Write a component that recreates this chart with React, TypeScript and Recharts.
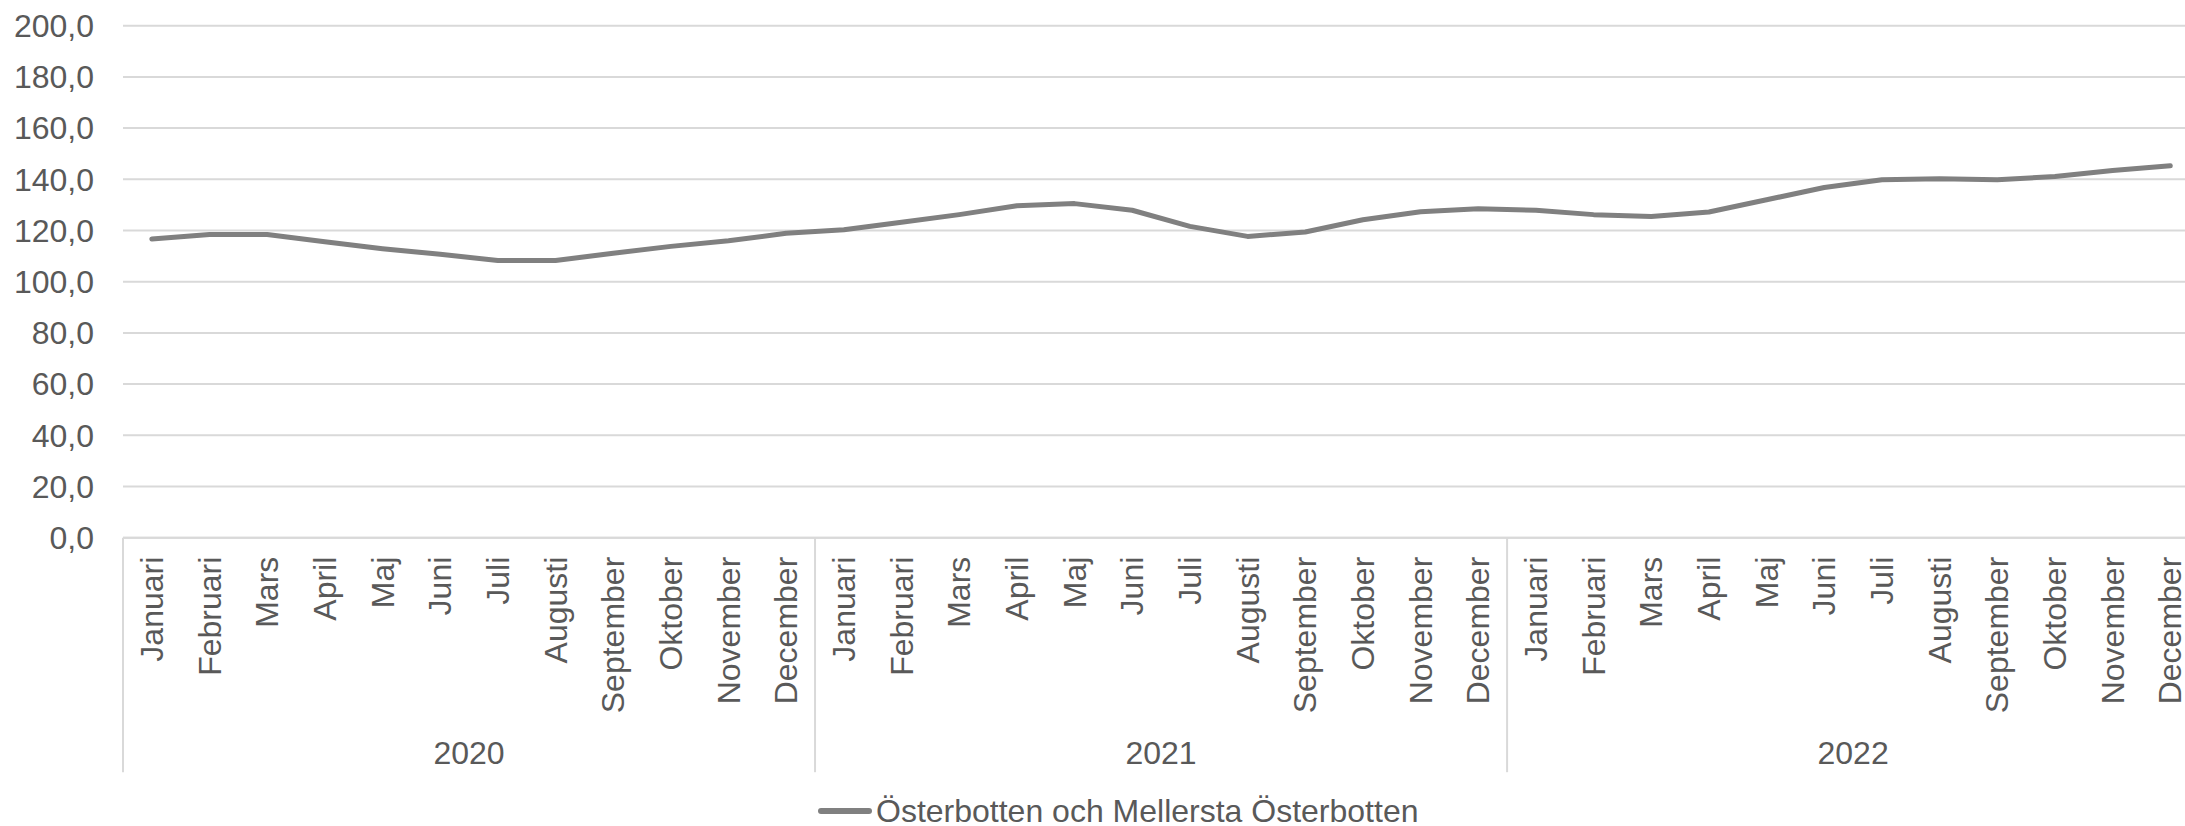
import React from 'react';
import { LineChart, Line, XAxis, YAxis, CartesianGrid, Legend } from 'recharts';

const months = ['Januari', 'Februari', 'Mars', 'April', 'Maj', 'Juni', 'Juli', 'Augusti', 'September', 'Oktober', 'November', 'December'];
const years = ['2020', '2021', '2022'];
const values2020 = [116.7, 118.4, 118.4, 115.6, 112.9, 110.7, 108.3, 108.3, 111.1, 113.8, 116.0, 118.9];
const values2021 = [120.3, 123.2, 126.2, 129.7, 130.5, 127.9, 121.6, 117.7, 119.4, 124.2, 127.3, 128.5];
const values2022 = [127.9, 126.2, 125.5, 127.2, 132.0, 136.8, 139.8, 140.2, 139.8, 141.1, 143.4, 145.3];
const yTicks = [0, 20, 40, 60, 80, 100, 120, 140, 160, 180, 200];
const seriesName = 'Österbotten och Mellersta Österbotten';

const data = [values2020, values2021, values2022].flatMap((vals, yi) =>
  vals.map((v, mi) => ({ month: months[mi], year: years[yi], value: v }))
);

const FONT = '"Liberation Sans", Arial, sans-serif';
const TEXT = '#595959';
const GRID = '#d9d9d9';
const FS = 32;
const BAND = 57.67;
const CHART_W = 2240;
const PLOT_LEFT = 123;
const PLOT_RIGHT = PLOT_LEFT + BAND * 36;

const formatTick = (v: number) => v.toFixed(1).replace('.', ',');

const MonthTick = ({ x, y, payload, index }: any) => (
  <g>
    {index % 12 === 0 && (
      <line x1={x - BAND / 2} x2={x - BAND / 2} y1={y} y2={y + 234.5} stroke={GRID} strokeWidth={2} />
    )}
    {index === 35 && (
      <line x1={x + BAND / 2} x2={x + BAND / 2} y1={y} y2={y + 234.5} stroke={GRID} strokeWidth={2} />
    )}
    <text
      transform={`translate(${x},${y + 19}) rotate(-90)`}
      textAnchor="end"
      dominantBaseline="central"
      fill={TEXT}
      fontSize={FS}
      fontFamily={FONT}
    >
      {payload.value}
    </text>
  </g>
);

const YearTick = ({ x, y, payload }: any) => (
  <text x={x} y={y + 15.5} textAnchor="middle" dominantBaseline="central" fill={TEXT} fontSize={FS} fontFamily={FONT}>
    {payload.value}
  </text>
);

const LegendContent = () => (
  <div
    style={{
      height: 54,
      boxSizing: 'border-box',
      paddingTop: 24,
      paddingLeft: 818,
      display: 'flex',
      alignItems: 'center',
      fontFamily: FONT,
      fontSize: FS,
      color: TEXT,
      lineHeight: 1,
      whiteSpace: 'nowrap',
    }}
  >
    <span style={{ display: 'inline-block', width: 54, height: 6, borderRadius: 3, background: '#808080', marginRight: 4 }} />
    <span>{seriesName}</span>
  </div>
);

export default function App() {
  return (
    <div style={{ position: 'absolute', left: 0, top: 0, width: 2185, height: 826, overflow: 'hidden', background: '#fff' }}>
      <LineChart
        width={CHART_W}
        height={826}
        data={data}
        margin={{ top: 25.7, left: 0, right: CHART_W - PLOT_RIGHT, bottom: 0 }}
      >
        <CartesianGrid horizontal vertical={false} stroke={GRID} strokeWidth={2} />
        <XAxis
          xAxisId="m"
          dataKey="month"
          interval={0}
          padding={{ left: BAND / 2, right: BAND / 2 }}
          height={200}
          tickSize={0}
          tickMargin={0}
          tickLine={false}
          axisLine={{ stroke: GRID, strokeWidth: 2 }}
          tick={<MonthTick />}
        />
        <XAxis
          xAxisId="yr"
          dataKey="year"
          allowDuplicatedCategory={false}
          interval={0}
          padding={{ left: BAND * 6, right: BAND * 6 }}
          height={34.3}
          tickSize={0}
          tickMargin={0}
          tickLine={false}
          axisLine={false}
          tick={<YearTick />}
        />
        <YAxis
          width={PLOT_LEFT}
          domain={[0, 200]}
          ticks={yTicks}
          tickFormatter={formatTick}
          axisLine={false}
          tickLine={false}
          tickSize={0}
          tickMargin={29}
          tick={{ fill: TEXT, fontSize: FS, fontFamily: FONT }}
        />
        <Legend
          verticalAlign="bottom"
          wrapperStyle={{ left: 0, width: 2185 }}
          content={<LegendContent />}
        />
        <Line
          xAxisId="m"
          type="linear"
          dataKey="value"
          name={seriesName}
          stroke="#808080"
          strokeWidth={5}
          strokeLinecap="round"
          strokeLinejoin="round"
          dot={false}
          isAnimationActive={false}
        />
      </LineChart>
    </div>
  );
}
